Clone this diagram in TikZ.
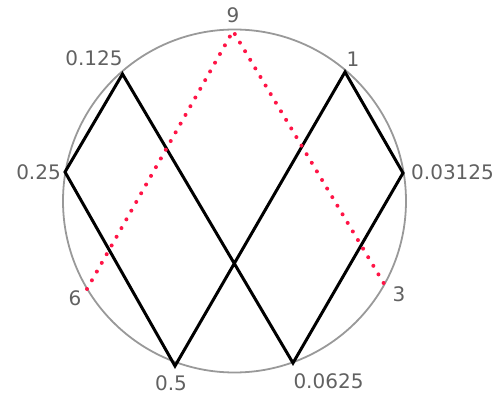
\documentclass[tikz,border=0pt]{standalone}
\usepackage{fontspec}
\setmainfont{DejaVu Sans}
\begin{document}
\begin{tikzpicture}[x=1pt,y=-1pt,
  rim/.style={draw=black!40, line width=1.8pt},
  chord/.style={draw=black, line width=3pt, line join=miter},
  reddot/.style={draw={rgb,255:red,255;green,20;blue,70}, line width=4pt, line cap=round, dash pattern=on 0pt off 10pt},
  lbl/.style={text=black!62, font=\fontsize{20}{20}\selectfont, inner sep=0pt}]
\useasboundingbox (0,0) rectangle (499,398);
\draw[rim] (234.5,201) circle (171.5);
\coordinate (p9) at (233,31);
\coordinate (p0125) at (122.5,74);
\coordinate (p1) at (345,72);
\coordinate (p025) at (65,172);
\coordinate (p003125) at (403,173);
\coordinate (p6) at (87,289);
\coordinate (p3) at (386,287);
\coordinate (p05) at (175,366);
\coordinate (p00625) at (293,363);
\draw[chord] (p0125) -- (p025) -- (p05) -- (p1) -- (p003125) -- (p00625) -- cycle;
\draw[reddot] (p6) -- (p9) -- (p3);
\node[lbl] (l9) at (233,15) {9};
\node[lbl] (l0125) at (94,58) {0.125};
\node[lbl] (l1) at (353,59) {1};
\node[lbl, anchor=east] (l025) at (61,172) {0.25};
\node[lbl, anchor=west] (l003125) at (411,172) {0.03125};
\node[lbl] (l6) at (75,298) {6};
\node[lbl] (l3) at (399,294) {3};
\node[lbl] (l05) at (171,383) {0.5};
\node[lbl] (l00625) at (328.5,381) {0.0625};
\end{tikzpicture}
\end{document}
